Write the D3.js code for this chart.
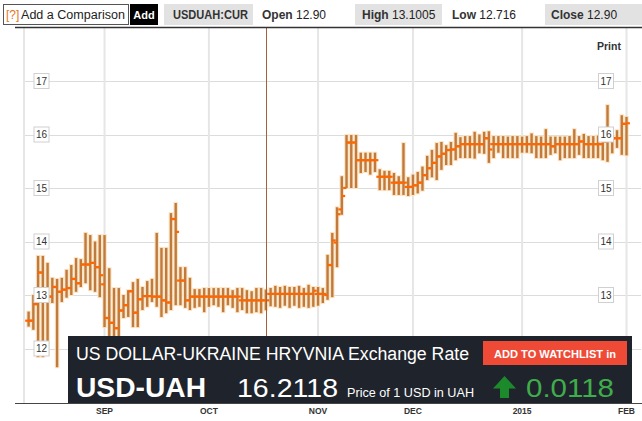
<!DOCTYPE html>
<html><head><meta charset="utf-8">
<script src="https://cdn.jsdelivr.net/npm/d3@7"></script>
<style>body{margin:0;background:#fff}svg{display:block;font-family:"Liberation Sans",Arial,sans-serif}</style>
</head><body><svg id="c" width="642" height="421"></svg>
<script>
// ---- data ----
const openV=[12.52,12.52,12.83,13.42,13.00,12.97,13.15,13.06,13.10,13.13,
13.30,13.22,13.57,13.57,13.60,13.52,13.20,12.57,12.48,12.38,
12.71,12.81,13.07,12.67,12.92,12.98,12.98,12.97,12.97,12.90,
12.86,14.42,13.27,13.27,12.90,12.97,12.97,12.97,12.97,12.97,
12.97,12.97,12.97,12.97,12.97,12.90,12.90,12.90,12.90,12.90,
12.90,13.02,13.02,13.02,13.02,13.02,13.02,13.02,13.02,13.02,
13.02,13.02,13.02,13.00,13.56,13.98,14.60,15.00,15.85,15.85,
15.52,15.52,15.52,15.52,15.21,15.21,15.21,15.10,15.10,15.10,
15.02,15.02,15.05,15.10,15.24,15.37,15.47,15.59,15.64,15.71,
15.72,15.78,15.82,15.82,15.82,15.82,15.82,15.93,15.82,15.82,
15.82,15.82,15.82,15.82,15.82,15.82,15.82,15.82,15.82,15.82,
15.82,15.78,15.82,15.82,15.82,15.82,15.82,15.87,15.82,15.82,
15.82,15.82,15.87,15.93,15.93,15.93,16.20];
const highV=[12.69,13.00,13.73,13.73,13.60,13.32,13.30,13.32,13.47,13.56,
13.69,13.67,14.16,14.12,14.00,14.12,14.12,13.50,13.13,13.13,
13.00,13.09,13.24,13.30,13.15,13.26,13.30,14.16,13.88,13.88,
14.53,14.72,13.52,13.52,13.32,13.11,13.11,13.13,13.13,13.13,
13.13,13.13,13.13,13.09,13.13,13.13,13.09,13.07,13.13,13.13,
13.1005,13.13,13.17,13.15,13.17,13.15,13.15,13.17,13.13,13.19,
13.15,13.15,13.13,13.75,14.16,14.64,15.22,15.99,15.99,15.99,
15.66,15.66,15.66,15.66,15.35,15.32,15.32,15.28,15.22,15.84,
15.20,15.25,15.30,15.40,15.60,15.71,15.84,15.86,15.80,15.86,
16.03,15.95,15.97,15.97,16.05,16.00,16.05,16.06,15.97,15.97,
15.97,15.96,15.97,15.97,15.96,15.97,16.02,15.97,15.96,16.10,
15.96,15.96,15.96,15.96,15.97,16.10,15.97,16.01,15.97,15.97,
15.98,15.96,16.55,15.97,16.08,16.36,16.33];
const lowV=[12.41,12.35,11.84,11.84,11.88,12.85,11.65,12.87,12.95,13.00,
13.06,13.15,13.22,13.09,13.06,12.96,12.40,12.21,12.21,12.16,
12.57,12.59,12.40,12.40,12.72,12.78,12.87,12.78,12.59,12.66,
12.72,12.81,12.81,12.76,12.72,12.76,12.78,12.68,12.78,12.81,
12.78,12.68,12.81,12.76,12.68,12.72,12.66,12.66,12.68,12.66,
12.716,12.79,12.78,12.76,12.80,12.76,12.80,12.76,12.78,12.76,
12.78,12.80,12.85,12.91,12.96,13.52,14.50,15.00,15.00,15.00,
15.28,15.30,15.25,15.30,14.96,14.96,14.96,14.87,14.87,14.87,
14.85,14.87,14.90,14.95,15.15,15.20,15.15,15.34,15.43,15.43,
15.52,15.56,15.56,15.56,15.55,15.65,15.64,15.47,15.56,15.66,
15.56,15.56,15.56,15.56,15.66,15.66,15.65,15.56,15.56,15.56,
15.62,15.65,15.52,15.56,15.56,15.56,15.62,15.56,15.56,15.56,
15.56,15.52,15.49,15.65,15.75,15.62,15.61];
const closeV=[12.52,12.83,13.42,13.00,12.97,13.15,13.06,13.10,13.13,13.30,
13.22,13.57,13.57,13.60,13.52,13.37,12.57,12.48,12.38,12.71,
12.81,13.07,12.67,12.92,12.98,12.98,12.97,12.97,12.90,12.86,
14.42,14.18,13.27,12.90,12.97,12.97,12.97,12.97,12.97,12.97,
12.97,12.97,12.97,12.97,12.97,12.90,12.90,12.90,12.90,12.90,
12.90,13.02,13.02,13.02,13.02,13.02,13.02,13.02,13.02,13.02,
13.08,13.02,13.02,13.56,14.02,14.51,14.85,15.85,15.85,15.52,
15.52,15.52,15.52,15.52,15.21,15.21,15.21,15.10,15.10,15.10,
15.02,15.05,15.10,15.24,15.37,15.47,15.59,15.64,15.71,15.72,
15.78,15.82,15.82,15.82,15.82,15.82,15.93,15.72,15.82,15.82,
15.82,15.82,15.82,15.82,15.82,15.82,15.82,15.82,15.82,15.82,
15.78,15.82,15.82,15.82,15.82,15.82,15.87,15.82,15.82,15.82,
15.82,15.87,15.93,15.93,15.93,16.20,16.21];
const firstDay="2014-08-08", lastDay="2015-02-02";
const yTicks=[12,13,14,15,16,17];
const yTicksRight=[13,14,15,16,17];
const monthLabels=["SEP","OCT","NOV","DEC","2015","FEB"];
const monthStarts=["2014-09-01","2014-10-01","2014-11-01","2014-12-01","2015-01-01","2015-02-01"];
const hoverIndex=50;
const headerLabels=["Open","High","Low","Close"];
const headerValues=["12.90","13.1005","12.716","12.90"];
const ticker="USDUAH:CUR";
const title="US DOLLAR-UKRAINE HRYVNIA Exchange Rate";
const symbol="USD-UAH", lastPrice="16.2118", priceNote="Price of 1 USD in UAH", change="0.0118";

// ---- setup ----
const parse=d3.timeParse("%Y-%m-%d");
const days=d3.timeDay.range(parse(firstDay), d3.timeDay.offset(parse(lastDay),1)).filter(d=>d.getDay()%6!==0);
const data=days.map((d,i)=>({date:d,o:openV[i],h:highV[i],l:lowV[i],c:closeV[i]}));
const x=d3.scaleLinear().domain([0,data.length-1]).range([28.6,626.5]);
const y=d3.scaleLinear().domain([12,17]).range([348.5,81]);
const monthIdx=monthStarts.map(s=>{const t=parse(s);return days.findIndex(d=>d>=t);});

const svg=d3.select("#c");
const plotTop=28, plotBottom=403, plotLeft=24, plotRight=641;

// gridlines
svg.append("g").selectAll("line").data(yTicks).join("line")
 .attr("x1",plotLeft).attr("x2",plotRight).attr("y1",d=>Math.round(y(d))+0.5).attr("y2",d=>Math.round(y(d))+0.5)
 .attr("stroke","#dcdcdc").attr("stroke-width",1.2);
svg.append("g").selectAll("line").data([null,...monthIdx]).join("line")
 .attr("x1",d=>d===null?plotLeft:x(d)).attr("x2",d=>d===null?plotLeft:x(d))
 .attr("y1",plotTop).attr("y2",plotBottom).attr("stroke","#e6e6e6").attr("stroke-width",2);

// bars
const gb=svg.append("g");
gb.selectAll("line.halo").data(data).join("line").attr("class","halo")
 .attr("x1",(d,i)=>x(i)).attr("x2",(d,i)=>x(i)).attr("y1",d=>y(d.h)-1).attr("y2",d=>y(d.l)+1)
 .attr("stroke","#fde3c2").attr("stroke-width",4.6);
gb.selectAll("line.bar").data(data).join("line").attr("class","bar")
 .attr("x1",(d,i)=>x(i)).attr("x2",(d,i)=>x(i)).attr("y1",d=>y(d.h)).attr("y2",d=>y(d.l))
 .attr("stroke","#bf7a3d").attr("stroke-width",2.4);
gb.selectAll("line.o").data(data).join("line").attr("class","o")
 .attr("x1",(d,i)=>x(i)-3.4).attr("x2",(d,i)=>x(i)).attr("y1",d=>y(d.o)).attr("y2",d=>y(d.o))
 .attr("stroke","#ff6600").attr("stroke-width",2.2);
gb.selectAll("line.c").data(data).join("line").attr("class","c")
 .attr("x1",(d,i)=>x(i)).attr("x2",(d,i)=>x(i)+3.4).attr("y1",d=>y(d.c)).attr("y2",d=>y(d.c))
 .attr("stroke","#ff6600").attr("stroke-width",2.2);

// cursor line
svg.append("line").attr("x1",Math.round(x(hoverIndex))+0.5).attr("x2",Math.round(x(hoverIndex))+0.5)
 .attr("y1",27).attr("y2",plotBottom).attr("stroke","#a3623a").attr("stroke-width",1);

// y labels (both sides; the right 12 sits behind the info panel)
[[41.5,yTicks],[606,yTicksRight]].forEach(([cx,ticks])=>{
 const g=svg.append("g").selectAll("g").data(ticks).join("g").attr("transform",d=>`translate(${cx},${y(d)})`);
 g.append("rect").attr("x",-7.5).attr("y",-7.5).attr("width",15).attr("height",15).attr("fill","#fff").attr("stroke","#d0d0d0");
 g.append("text").attr("text-anchor","middle").attr("y",3.6).attr("font-size",10).attr("fill","#333").text(d=>d);
});

// Print
svg.append("text").attr("x",597).attr("y",50).attr("font-size",10.5).attr("font-weight","bold").attr("fill","#333").text("Print");

// header
const hd=svg.append("g");
hd.append("rect").attr("x",3.5).attr("y",4.5).attr("width",125).attr("height",20).attr("fill","#fff").attr("stroke","#555");
hd.append("text").attr("x",6).attr("y",19).attr("font-size",12).attr("fill","#e2761e").text("[?]");
hd.append("text").attr("x",21).attr("y",19).attr("font-size",12).attr("fill","#222").attr("textLength",104).attr("lengthAdjust","spacingAndGlyphs").text("Add a Comparison");
hd.append("rect").attr("x",130).attr("y",4).attr("width",28).attr("height",21).attr("fill","#000");
hd.append("text").attr("x",144).attr("y",19).attr("text-anchor","middle").attr("font-size",11).attr("font-weight","bold").attr("fill","#fff").text("Add");
hd.append("rect").attr("x",164).attr("y",4).attr("width",89).attr("height",21).attr("fill","#e2e2e2");
hd.append("text").attr("x",173).attr("y",19).attr("font-size",12).attr("font-weight","bold").attr("fill","#333").attr("textLength",75).attr("lengthAdjust","spacingAndGlyphs").text(ticker);
const hx=[[262,null],[362,[355,87]],[452,null],[551,[545,97]]];
hx.forEach((p,k)=>{
 if(p[1]) hd.append("rect").attr("x",p[1][0]).attr("y",4).attr("width",p[1][1]).attr("height",21).attr("fill","#e2e2e2");
 const t=hd.append("text").attr("x",p[0]).attr("y",19).attr("font-size",12).attr("fill","#222");
 t.append("tspan").attr("font-weight","bold").attr("fill","#333").text(headerLabels[k]);
 t.append("tspan").text(" "+headerValues[k]);
});
svg.append("line").attr("x1",15).attr("x2",642).attr("y1",27.5).attr("y2",27.5).attr("stroke","#333").attr("stroke-width",1.5);

// bottom axis line
svg.append("line").attr("x1",15).attr("x2",642).attr("y1",403.5).attr("y2",403.5).attr("stroke","#444").attr("stroke-width",1);

// x labels
svg.append("g").selectAll("text").data(monthIdx).join("text")
 .attr("x",d=>x(d)).attr("y",414).attr("text-anchor","middle").attr("font-size",8.5).attr("font-weight","bold").attr("fill","#333")
 .text((d,i)=>monthLabels[i]);

// dark panel
const p=svg.append("g");
p.append("rect").attr("x",68).attr("y",336).attr("width",564).attr("height",67).attr("fill","#1f242c");
p.append("text").attr("x",76).attr("y",360).attr("font-size",18).attr("fill","#fff").attr("textLength",393).attr("lengthAdjust","spacingAndGlyphs").text(title);
p.append("rect").attr("x",483).attr("y",341).attr("width",144).attr("height",24).attr("fill","#ee4a36");
p.append("text").attr("x",555).attr("y",357.5).attr("text-anchor","middle").attr("font-size",11.5).attr("font-weight","bold").attr("fill","#fff").attr("textLength",122).attr("lengthAdjust","spacingAndGlyphs").text("ADD TO WATCHLIST in");
p.append("text").attr("x",76).attr("y",397).attr("font-size",27).attr("font-weight","bold").attr("fill","#fff").attr("textLength",130).attr("lengthAdjust","spacingAndGlyphs").text(symbol);
p.append("text").attr("x",237).attr("y",397).attr("font-size",25).attr("fill","#fff").attr("textLength",101).attr("lengthAdjust","spacingAndGlyphs").text(lastPrice);
p.append("text").attr("x",347).attr("y",397).attr("font-size",12).attr("fill","#fff").attr("textLength",127).attr("lengthAdjust","spacingAndGlyphs").text(priceNote);
p.append("path").attr("d","M504.5,376 L516,388.5 L509,388.5 L509,398 L500,398 L500,388.5 L493,388.5 Z").attr("fill","#1c8a2b");
p.append("text").attr("x",526).attr("y",397).attr("font-size",26).attr("fill","#3fae4a").attr("textLength",88).attr("lengthAdjust","spacingAndGlyphs").text(change);
</script></body></html>
